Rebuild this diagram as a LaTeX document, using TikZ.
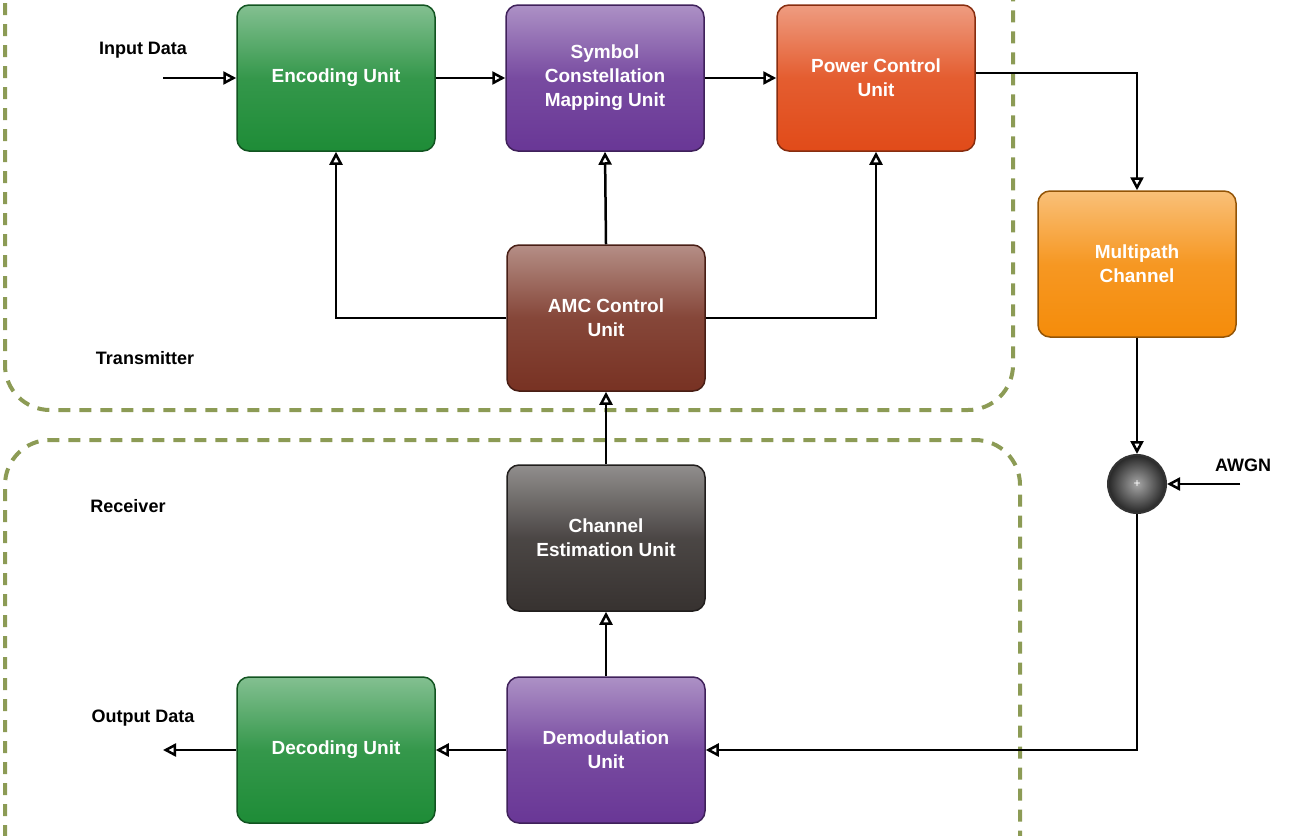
\documentclass[tikz,border=0pt]{standalone}
\usepackage{fontspec}
\setmainfont{Liberation Sans}
\usetikzlibrary{arrows.meta,shadings}
\begin{document}
\begin{tikzpicture}[x=1pt,y=-1pt,
 blk/.style={draw=#1!60!black,line width=1.5pt,rounded corners=12pt,minimum width=198pt,minimum height=146pt,
   top color=#1!55!white,bottom color=#1,middle color=#1!90!white,text=white,font=\bfseries\fontsize{19}{24}\selectfont,align=center},
 lab/.style={font=\bfseries\fontsize{18}{22}\selectfont,text=black},
 ar/.style={line width=2.5pt,-{Triangle[open,length=13pt,width=13pt]}},
 ln/.style={line width=2.5pt},
 box/.style={draw=olive!60!green!50!gray,line width=4pt,dash pattern=on 12pt off 9pt,rounded corners=45pt}]
\definecolor{cg}{RGB}{30,140,55}
\definecolor{cp}{RGB}{105,55,150}
\definecolor{cr}{RGB}{225,75,25}
\definecolor{co}{RGB}{245,140,10}
\definecolor{cb}{RGB}{120,50,35}
\definecolor{ck}{RGB}{55,50,48}
\useasboundingbox (0,0) rectangle (1300,835);
\draw[box,draw={rgb,255:red,140;green,155;blue,85}] (5,-60) -- (5,410) -- (1013,410) -- (1013,-60);
\draw[box,draw={rgb,255:red,140;green,155;blue,85}] (5,900) -- (5,440) -- (1020,440) -- (1020,900);
\node[blk=cg] (enc) at (336,78) {Encoding Unit};
\node[blk=cp] (sym) at (605,78) {Symbol\\Constellation\\Mapping Unit};
\node[blk=cr] (pow) at (876,78) {Power Control\\Unit};
\node[blk=co] (mp) at (1137,264) {Multipath\\Channel};
\node[blk=cb] (amc) at (606,318) {AMC Control\\Unit};
\node[blk=ck] (ce) at (606,538) {Channel\\Estimation Unit};
\node[blk=cp] (dem) at (606,750) {Demodulation\\Unit};
\node[blk=cg] (dec) at (336,750) {Decoding Unit};
\node[circle,draw=black!80,line width=2pt,minimum size=58pt,inner color=gray!70,outer color=black!85,text=white,font=\large] (add) at (1137,484) {+};
\node[lab] (in) at (143,50) {Input Data};
\node[lab] at (145,358) {Transmitter};
\node[lab] at (128,506) {Receiver};
\node[lab] (out) at (143,718) {Output Data};
\node[lab] (awgn) at (1243,465) {AWGN};
\coordinate (i0) at (163,78);
\coordinate (o0) at (163,750);
\coordinate (a0) at (1240,484);
\draw[ar] (i0) -- (enc);
\draw[ar] (enc) -- (sym);
\draw[ar] (sym) -- (pow);
\draw[ar] (pow.east |- 0,73) -| (mp.north);
\draw[ar] (amc.west) -| (enc.south);
\draw[ar] (amc.north) -- (sym.south);
\draw[ar] (amc.east) -| (pow.south);
\draw[ar] (mp.south) -- (add.north);
\draw[ar] (a0) -- (add.east);
\draw[ar] (add.south) |- (dem.east);
\draw[ar] (dem) -- (dec);
\draw[ar] (dec) -- (o0);
\draw[ar] (dem) -- (ce);
\draw[ar] (ce) -- (amc);
\end{tikzpicture}
\end{document}
